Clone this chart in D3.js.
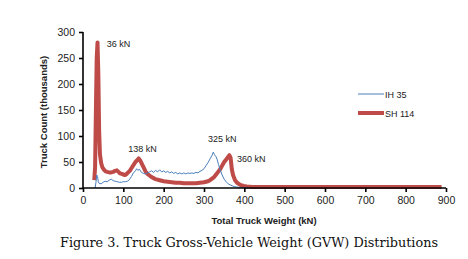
<!DOCTYPE html>
<html>
<head>
<script src="https://cdn.jsdelivr.net/npm/d3@7/dist/d3.min.js"></script>
<style>
  body { margin: 0; background: #fff; }
  text { font-family: "Liberation Sans", Arial, sans-serif; }
  text.caption { font-family: "DejaVu Serif", "Liberation Serif", serif; }
</style>
</head>
<body>
<svg id="mainsvg" width="468" height="259"></svg>
<script>
// IH 35 series (kN, thousands of trucks)
const ihKN  = [30,32,34,36,38,40,45,50,55,60,65,70,75,80,85,90,95,100,105,110,115,120,125,130,133,136,140,145,150,155,160,165,170,175,180,185,190,195,200,205,210,215,220,225,230,235,240,245,250,255,260,265,270,275,280,285,290,295,300,305,310,315,320,323,326,330,333,336,340,345,350,355,360,365,370,375,380,390,400,410];
const ihVal = [0,10,25,22,12,9,8,11,13,12,15,17,14,13,12,11,11,12,12,13,16,22,29,33,37,34,36,30,28,27,29,31,33,30,34,31,35,31,33,30,32,29,31,28,30,27,29,27,29,27,29,28,29,28,30,29,32,34,37,43,49,56,63,69,64,60,54,45,35,25,17,12,8,6,4,3,2,1,0.5,0];
// SH 114 series
const shKN  = [28,30,32,34,36,38,40,42,45,48,52,56,60,65,70,75,80,84,88,92,96,100,104,108,112,116,120,125,130,135,138,141,145,150,155,160,165,170,175,180,190,200,210,220,230,240,250,260,270,280,290,300,310,315,320,325,330,335,340,345,350,355,360,363,366,369,372,377,382,390,398,406,420,450,500,600,700,800,889];
const shVal = [15,40,150,250,280,220,110,65,48,40,35,32,31,30,30,31,33,34,31,28,27,26,25,27,30,33,38,44,50,54,57,54,48,40,32,27,24,21,19,17,15,13,12,11,10,10,9,9,9,9,10,11,13,15,18,21,26,31,36,43,50,55,60,63,58,36,25,15,10,6,4,3,2,2,2,2,2,2,2];

const xTicks = [0,100,200,300,400,500,600,700,800,900];
const yTicks = [0,50,100,150,200,250,300];

const peakText = ['36 kN','138 kN','325 kN','360 kN'];
const peakKN   = [59,112,310,382];
const peakVal  = [272,69,88,50];

const seriesNames = ['IH 35','SH 114'];
const seriesColors = ['#4a7ebb','#be4b48'];
const seriesWidths = [1,4];

const svg = d3.select('#mainsvg');
const x = d3.scaleLinear().domain([0,900]).range([83,446]);
const y = d3.scaleLinear().domain([0,300]).range([188,32]);

const line = d3.line().x(d => x(d[0])).y(d => y(d[1]));

// series
const ihData = ihKN.map((k,i) => [k, ihVal[i]]);
const shData = shKN.map((k,i) => [k, shVal[i]]);

svg.append('path').datum(shData)
  .attr('d', line).attr('fill','none')
  .attr('stroke', seriesColors[1]).attr('stroke-width', seriesWidths[1])
  .attr('stroke-linejoin','round');
svg.append('path').datum(ihData)
  .attr('d', line).attr('fill','none')
  .attr('stroke', seriesColors[0]).attr('stroke-width', seriesWidths[0]);

// axes
const xAxis = svg.append('g').attr('transform','translate(0,188)')
  .call(d3.axisBottom(x).tickValues(xTicks).tickSize(4).tickPadding(5));
const yAxis = svg.append('g').attr('transform','translate(83,0)')
  .call(d3.axisLeft(y).tickValues(yTicks).tickSize(4).tickPadding(4));
[xAxis, yAxis].forEach(g => {
  g.select('.domain').attr('stroke','#000').attr('stroke-width',1.6);
  g.selectAll('.tick line').attr('stroke','#000').attr('stroke-width',1.6);
  g.selectAll('.tick text').attr('font-size',10.5).attr('fill','#222');
});
xAxis.select('.domain').attr('d','M83,0H446');
yAxis.select('.domain').attr('d','M0,32V188');

// axis titles
svg.append('text').attr('x',264).attr('y',224).attr('text-anchor','middle')
  .attr('font-size',9.5).attr('font-weight','bold').attr('fill','#222')
  .text('Total Truck Weight (kN)');
svg.append('text').attr('transform','translate(47,112) rotate(-90)')
  .attr('text-anchor','middle').attr('font-size',9.5).attr('font-weight','bold').attr('fill','#222')
  .text('Truck Count (thousands)');

// peak labels
svg.selectAll('.peak').data(peakText).join('text')
  .attr('class','peak')
  .attr('x',(d,i) => x(peakKN[i])).attr('y',(d,i) => y(peakVal[i]))
  .attr('font-size',9).attr('fill','#222')
  .text(d => d);

// legend
const leg = svg.append('g');
seriesNames.forEach((n,i) => {
  const ly = 94 + i*19;
  leg.append('line').attr('x1',358).attr('x2',384).attr('y1',ly).attr('y2',ly)
    .attr('stroke',seriesColors[i]).attr('stroke-width',seriesWidths[i]);
  leg.append('text').attr('x',385).attr('y',ly+3.5).attr('font-size',9).attr('fill','#222').text(n);
});

// caption
svg.append('text').attr('class','caption').attr('x',249).attr('y',247).attr('text-anchor','middle')
  .attr('font-size',12.5)
  .attr('fill','#111').attr('textLength',378).attr('lengthAdjust','spacingAndGlyphs')
  .text('Figure 3. Truck Gross-Vehicle Weight (GVW) Distributions');
</script>
</body>
</html>
